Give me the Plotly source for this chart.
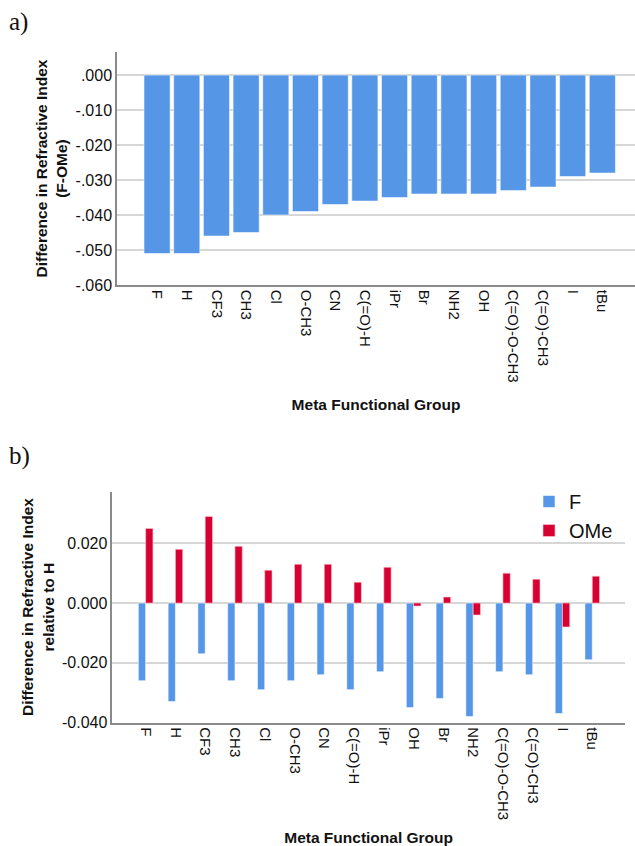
import plotly.graph_objects as go

# ---- data: panel a ----
groups_a = ["F", "H", "CF3", "CH3", "Cl", "O-CH3", "CN", "C(=O)-H", "iPr", "Br",
            "NH2", "OH", "C(=O)-O-CH3", "C(=O)-CH3", "I", "tBu"]
diff_a = [-0.051, -0.051, -0.046, -0.045, -0.040, -0.039, -0.037, -0.036, -0.035, -0.034,
          -0.034, -0.034, -0.033, -0.032, -0.029, -0.028]
ytick_vals_a = [0.0, -0.01, -0.02, -0.03, -0.04, -0.05, -0.06]
ytick_text_a = [".000", "-.010", "-.020", "-.030", "-.040", "-.050", "-.060"]

# ---- data: panel b ----
groups_b = ["F", "H", "CF3", "CH3", "Cl", "O-CH3", "CN", "C(=O)-H", "iPr", "OH",
            "Br", "NH2", "C(=O)-O-CH3", "C(=O)-CH3", "I", "tBu"]
f_b = [-0.026, -0.033, -0.017, -0.026, -0.029, -0.026, -0.024, -0.029, -0.023, -0.035,
       -0.032, -0.038, -0.023, -0.024, -0.037, -0.019]
ome_b = [0.025, 0.018, 0.029, 0.019, 0.011, 0.013, 0.013, 0.007, 0.012, -0.001,
         0.002, -0.004, 0.010, 0.008, -0.008, 0.009]
ytick_vals_b = [0.02, 0.0, -0.02, -0.04]
ytick_text_b = ["0.020", "0.000", "-0.020", "-0.040"]

BLUE = "#5596e6"
RED = "#d60032"
GRID = "#d6d6d6"
AXIS = "#8a8a8a"
FONT = "Liberation Sans, Arial, sans-serif"

W, H = 635, 846

def px_x(p):
    return p / W

def px_y(p):
    return 1 - p / H

fig = go.Figure()

fig.add_trace(go.Bar(
    x=list(range(len(groups_a))), y=diff_a, xaxis="x", yaxis="y",
    marker=dict(color=BLUE, line=dict(color="rgba(255,255,255,0.55)", width=1)),
    width=0.88, offset=-0.44, showlegend=False, name="F-OMe",
))

fig.add_trace(go.Bar(
    x=list(range(len(groups_b))), y=f_b, xaxis="x2", yaxis="y2",
    marker=dict(color=BLUE, line=dict(color="rgba(255,255,255,0.55)", width=1)),
    width=0.245, offset=-0.245, name="F", legendgroup="F",
))
fig.add_trace(go.Bar(
    x=list(range(len(groups_b))), y=ome_b, xaxis="x2", yaxis="y2",
    marker=dict(color=RED, line=dict(color="rgba(255,200,210,0.6)", width=1)),
    width=0.245, offset=0.0, name="OMe", legendgroup="OMe",
))

xtickfont = dict(family=FONT, size=15, color="#111111")
ytickfont = dict(family=FONT, size=16, color="#111111")
titlefont = dict(family=FONT, size=15.5, color="#111111", weight="bold")

fig.update_layout(
    width=W, height=H,
    margin=dict(l=0, r=0, t=0, b=0),
    paper_bgcolor="white", plot_bgcolor="white",
    barmode="overlay",
    font=dict(family=FONT, size=15, color="#111111"),
    xaxis=dict(
        domain=[px_x(117), 1.0], anchor="y",
        range=[-1.35, 16.1],
        tickmode="array", tickvals=list(range(len(groups_a))), ticktext=groups_a,
        tickangle=90, tickfont=xtickfont, ticks="",
        showgrid=False, showline=True, linecolor=AXIS, linewidth=1.5,
        title=dict(text="Meta Functional Group", font=titlefont, standoff=17),
        automargin=False,
    ),
    yaxis=dict(
        domain=[px_y(285), px_y(52)], anchor="x",
        range=[-0.060, 0.0066],
        tickmode="array", tickvals=ytick_vals_a, ticktext=ytick_text_a,
        tickfont=ytickfont, ticks="",
        showgrid=True, gridcolor=GRID, gridwidth=1.5, zeroline=False,
        showline=True, linecolor=AXIS, linewidth=1.5,
        title=dict(text="Difference in Refractive Index<br>(F-OMe)", font=titlefont, standoff=4),
        automargin=False,
    ),
    xaxis2=dict(
        domain=[px_x(112.3), px_x(625)], anchor="y2",
        range=[-1.12, 16.1],
        tickmode="array", tickvals=list(range(len(groups_b))), ticktext=groups_b,
        tickangle=90, tickfont=xtickfont, ticks="",
        showgrid=False, showline=True, linecolor=AXIS, linewidth=1.5,
        title=dict(text="Meta Functional Group", font=titlefont, standoff=17),
        automargin=False,
    ),
    yaxis2=dict(
        domain=[px_y(722.5), px_y(491.7)], anchor="x2",
        range=[-0.040, 0.0373],
        tickmode="array", tickvals=ytick_vals_b, ticktext=ytick_text_b,
        tickfont=ytickfont, ticks="",
        showgrid=True, gridcolor=GRID, gridwidth=1.5, zeroline=False,
        showline=True, linecolor=AXIS, linewidth=1.5,
        title=dict(text="Difference in Refractive Index<br>relative to H", font=titlefont, standoff=4),
        automargin=False,
    ),
    legend=dict(
        x=px_x(529), y=px_y(482), xanchor="left", yanchor="top",
        font=dict(family=FONT, size=20, color="#111111"),
        bgcolor="rgba(0,0,0,0)", tracegroupgap=0, itemwidth=30,
    ),
    annotations=[
        dict(text="a)", x=px_x(7), y=px_y(6), xref="paper", yref="paper",
             xanchor="left", yanchor="top", showarrow=False,
             font=dict(family="Liberation Serif, DejaVu Serif, serif", size=25, color="#111111")),
        dict(text="b)", x=px_x(7), y=px_y(440), xref="paper", yref="paper",
             xanchor="left", yanchor="top", showarrow=False,
             font=dict(family="Liberation Serif, DejaVu Serif, serif", size=25, color="#111111")),
    ],
)

fig.write_html(
    "out.html",
    config={"displayModeBar": False},
    post_script="document.body.style.margin='0px';document.body.style.overflow='hidden';",
)
